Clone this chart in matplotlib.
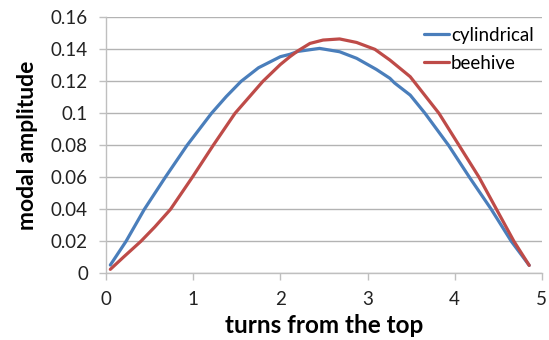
import numpy as np
import matplotlib.pyplot as plt

# values
cyl_x = [0.05, 0.23, 0.44, 0.68, 0.93, 1.21, 1.38, 1.55, 1.75, 2.0, 2.11, 2.2, 2.45,
         2.68, 2.875, 3.1, 3.257, 3.31, 3.49, 3.66, 3.93, 4.17, 4.42, 4.65, 4.855]
cyl_y = [0.0052, 0.020, 0.040, 0.060, 0.080, 0.100, 0.1105, 0.120, 0.1285, 0.1354, 0.1369, 0.1387, 0.1406,
         0.1385, 0.1344, 0.1275, 0.1219, 0.119, 0.1114, 0.100, 0.080, 0.060, 0.040, 0.020, 0.005]

bee_x = [0.05, 0.206, 0.40, 0.56, 0.74, 0.99, 1.23, 1.48, 1.80, 2.0, 2.11, 2.2, 2.34,
         2.49, 2.68, 2.875, 3.085, 3.257, 3.49, 3.82, 4.05, 4.28, 4.48, 4.68, 4.855]
bee_y = [0.0025, 0.0104, 0.020, 0.029, 0.040, 0.060, 0.080, 0.100, 0.120, 0.1305, 0.1354, 0.139, 0.1437,
         0.1458, 0.1465, 0.1443, 0.140, 0.1333, 0.1229, 0.100, 0.080, 0.060, 0.040, 0.020, 0.005]

x_ticks = [0, 1, 2, 3, 4, 5]
y_ticks = [0, 0.02, 0.04, 0.06, 0.08, 0.1, 0.12, 0.14, 0.16]
y_labels = ['0', '0.02', '0.04', '0.06', '0.08', '0.1', '0.12', '0.14', '0.16']

plt.rcParams['font.family'] = ['Lato', 'DejaVu Sans']

fig = plt.figure(figsize=(5.49, 3.40), dpi=100)
ax = fig.add_axes([0.193, 0.196, 0.794, 0.753])

ax.plot(cyl_x, cyl_y, color='#4A7EBB', lw=2.3, label='cylindrical',
        solid_capstyle='round', solid_joinstyle='round')
ax.plot(bee_x, bee_y, color='#BE4B48', lw=2.3, label='beehive',
        solid_capstyle='round', solid_joinstyle='round')

ax.set_xlim(0, 5)
ax.set_ylim(0, 0.16)
ax.set_xticks(x_ticks)
ax.set_xticklabels([str(t) for t in x_ticks])
ax.set_yticks(y_ticks)
ax.set_yticklabels(y_labels)

ax.grid(axis='y', color='#B3B3B3', lw=1)
ax.set_axisbelow(True)
for s in ['top', 'right']:
    ax.spines[s].set_visible(False)
for s in ['left', 'bottom']:
    ax.spines[s].set_color('#BFBFBF')
    ax.spines[s].set_linewidth(1)
ax.tick_params(axis='both', colors='#BFBFBF', length=5, width=1, labelsize=13.5,
               labelcolor='#222222', pad=8)
ax.tick_params(axis='x', pad=8)

ax.set_xlabel('turns from the top', fontsize=17.5, fontweight='bold', labelpad=4)
ax.set_ylabel('modal amplitude', fontsize=16.5, fontweight='bold', labelpad=9)

ax.legend(loc='upper right', frameon=False, fontsize=13.5, handlelength=1.35,
          handletextpad=0.1, labelspacing=0.6, bbox_to_anchor=(1.02, 1.03))

fig.savefig('out.png', dpi=100)
